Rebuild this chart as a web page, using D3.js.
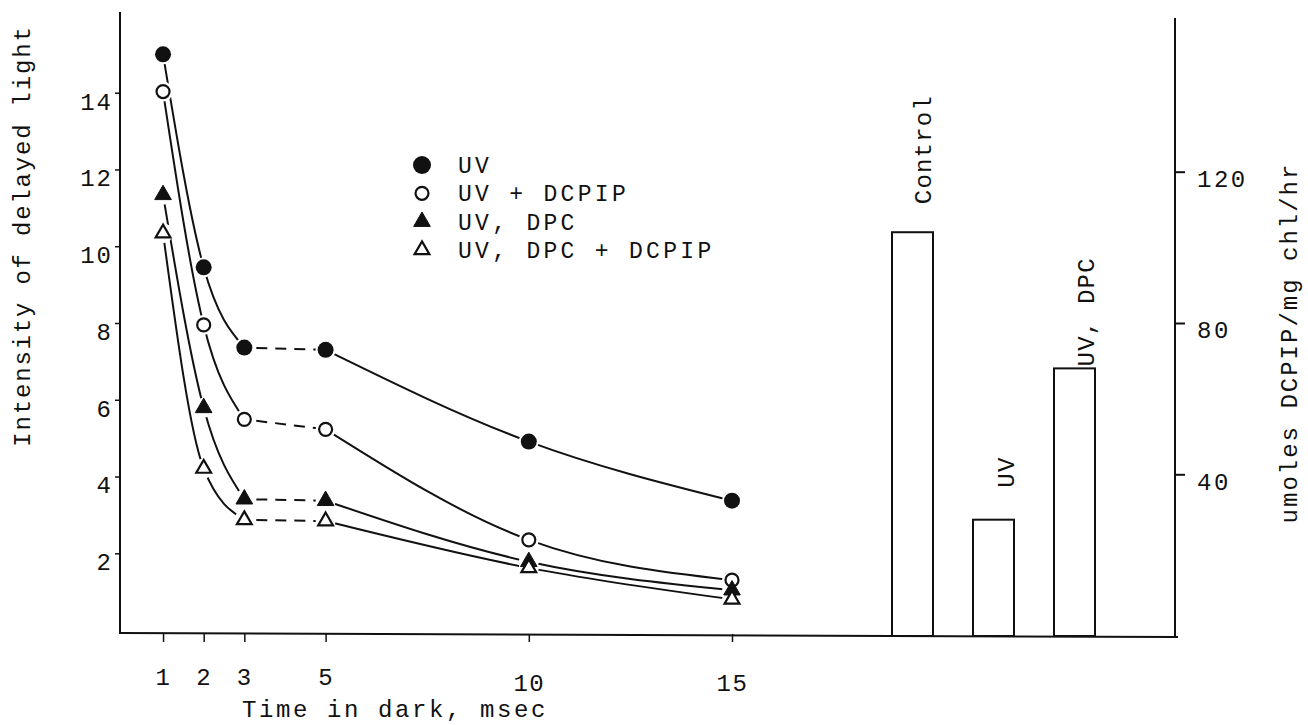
<!DOCTYPE html>
<html>
<head>
<meta charset="utf-8">
<script src="https://cdn.jsdelivr.net/npm/d3@7"></script>
<style>
body { margin: 0; background: #fff; }
svg text { font-family: "Liberation Mono", "DejaVu Sans Mono", monospace; fill: #111; }
</style>
</head>
<body>
<svg width="1308" height="725"></svg>
<script>
// delayed light
var times = [1, 2, 3, 5, 10, 15];
var seriesNames = ["UV", "UV + DCPIP", "UV, DPC", "UV, DPC + DCPIP"];
var uv = [15.0, 9.45, 7.36, 7.30, 4.91, 3.37];
var uvDcpip = [14.03, 7.95, 5.49, 5.23, 2.35, 1.30];
var uvDpc = [11.34, 5.79, 3.41, 3.37, 1.78, 1.04];
var uvDpcDcpip = [10.34, 4.21, 2.87, 2.84, 1.62, 0.80];
var leftTicks = [2, 4, 6, 8, 10, 12, 14];
var xTicks = [1, 2, 3, 5, 10, 15];

// DCPIP reduction bars
var barNames = ["Control", "UV", "UV, DPC"];
var barValues = [104, 28, 68];
var rightTicks = [40, 80, 120];

var svg = d3.select("svg");
var ink = "#111";

var x = d3.scaleLinear().domain([0, 15]).range([122.4, 732]);
var yL = d3.scaleLinear().domain([2, 14]).range([553.3, 92.7]);
var yR = d3.scaleLinear().domain([40, 120]).range([474.3, 171.7]);
var barX = d3.scalePoint().domain(barNames).range([912.5, 1074.5]);
var barW = 41, baseY = 636;

// axis lines (hand drawn frame)
svg.append("line").attr("x1", 120).attr("y1", 12).attr("x2", 120).attr("y2", 634)
  .attr("stroke", ink).attr("stroke-width", 2);
svg.append("line").attr("x1", 119).attr("y1", 633).attr("x2", 1178).attr("y2", 637)
  .attr("stroke", ink).attr("stroke-width", 2);
svg.append("line").attr("x1", 1175).attr("y1", 18).attr("x2", 1175).attr("y2", 637)
  .attr("stroke", ink).attr("stroke-width", 2);

// left axis
var gL = svg.append("g").attr("transform", "translate(120,0)")
  .call(d3.axisLeft(yL).tickValues(leftTicks).tickSize(5).tickPadding(2).tickFormat(d3.format("d")));
gL.select(".domain").remove();
gL.selectAll("line").attr("stroke", ink).attr("stroke-width", 1.5);
gL.selectAll("text").attr("font-size", 24).attr("letter-spacing", 2).attr("dy", "0.68em");

// bottom axis
var gB = svg.append("g").attr("transform", "translate(0,634)")
  .call(d3.axisBottom(x).tickValues(xTicks).tickSize(8).tickPadding(26));
gB.select(".domain").remove();
gB.selectAll("line").attr("stroke", ink).attr("stroke-width", 1.5);
gB.selectAll("text").attr("font-size", 24).attr("letter-spacing", 1.5)
  .attr("dy", function(d) { return d >= 10 ? "0.95em" : "0.71em"; });

// right axis
var gR = svg.append("g").attr("transform", "translate(1175,0)")
  .call(d3.axisRight(yR).tickValues(rightTicks).tickSize(10).tickPadding(12));
gR.select(".domain").remove();
gR.selectAll("line").attr("stroke", ink).attr("stroke-width", 2);
gR.selectAll("text").attr("font-size", 24).attr("letter-spacing", 2.5).attr("dy", "0.62em");

// bars
svg.selectAll("rect.bar").data(barNames).enter().append("rect")
  .attr("class", "bar")
  .attr("x", function(d) { return barX(d) - barW / 2; })
  .attr("y", function(d, i) { return yR(barValues[i]); })
  .attr("width", barW)
  .attr("height", function(d, i) { return baseY - yR(barValues[i]); })
  .attr("fill", "#fff").attr("stroke", ink).attr("stroke-width", 2);

// bar labels, rotated
var labelOff = [[18, 28], [20, 32], [19, 2]];
svg.selectAll("text.blab").data(barNames).enter().append("text")
  .attr("class", "blab")
  .attr("transform", function(d, i) {
    return "translate(" + (barX(d) + labelOff[i][0]) + "," + (yR(barValues[i]) - labelOff[i][1]) + ") rotate(-90)";
  })
  .attr("font-size", 24).attr("letter-spacing", 1.2)
  .text(function(d) { return d; });

// curves
var series = [uv, uvDcpip, uvDpc, uvDpcDcpip];
var kinds = ["dot", "circle", "tri", "opentri"];
var line = d3.line()
  .x(function(d) { return x(d[0]); })
  .y(function(d) { return yL(d[1]); })
  .curve(d3.curveMonotoneX);

series.forEach(function(vals) {
  var pts = times.map(function(t, i) { return [t, vals[i]]; });
  svg.append("path").attr("d", line(pts.slice(0, 3)))
    .attr("fill", "none").attr("stroke", ink).attr("stroke-width", 2);
  svg.append("path").attr("d", line(pts.slice(2, 4)))
    .attr("fill", "none").attr("stroke", ink).attr("stroke-width", 2)
    .attr("stroke-dasharray", "11,8").attr("stroke-dashoffset", -12);
  svg.append("path").attr("d", line(pts.slice(3)))
    .attr("fill", "none").attr("stroke", ink).attr("stroke-width", 2);
});

var triPath = d3.symbol().type(d3.symbolTriangle);

function marker(g, kind, big) {
  if (kind === "dot") {
    g.append("circle").attr("r", big ? 9 : 8).attr("fill", ink);
  } else if (kind === "circle") {
    g.append("circle").attr("r", 6.5).attr("fill", "#fff").attr("stroke", ink).attr("stroke-width", 2.2);
  } else if (kind === "tri") {
    g.append("path").attr("d", triPath.size(120)()).attr("fill", ink)
      .attr("stroke", ink).attr("stroke-width", 1);
  } else {
    g.append("path").attr("d", triPath.size(95)()).attr("fill", "#fff")
      .attr("stroke", ink).attr("stroke-width", 2.2);
  }
}

// white halos so lines stop short of the points
series.forEach(function(vals) {
  svg.selectAll(null).data(times).enter().append("circle")
    .attr("cx", function(d) { return x(d); })
    .attr("cy", function(d, i) { return yL(vals[i]); })
    .attr("r", 10).attr("fill", "#fff");
});

series.forEach(function(vals, s) {
  times.forEach(function(t, i) {
    var g = svg.append("g").attr("transform", "translate(" + x(t) + "," + yL(vals[i]) + ")");
    marker(g, kinds[s]);
  });
});

// legend
var legend = svg.append("g").attr("transform", "translate(422,165)");
seriesNames.forEach(function(name, i) {
  var row = legend.append("g").attr("transform", "translate(0," + (i * 28.3) + ")");
  marker(row, kinds[i], true);
  row.append("text").attr("x", 36).attr("y", 8)
    .attr("font-size", 23).attr("letter-spacing", 3.3)
    .text(name);
});

// axis titles
svg.append("text")
  .attr("transform", "translate(30,236) rotate(-90)")
  .attr("text-anchor", "middle").attr("font-size", 24).attr("letter-spacing", 1.8)
  .text("Intensity of delayed light");
svg.append("text")
  .attr("x", 395).attr("y", 717)
  .attr("text-anchor", "middle").attr("font-size", 24).attr("letter-spacing", 2.6)
  .text("Time in dark, msec");
svg.append("text")
  .attr("transform", "translate(1297,343) rotate(-90)")
  .attr("text-anchor", "middle").attr("font-size", 24).attr("letter-spacing", 2)
  .text("umoles DCPIP/mg chl/hr");
</script>
</body>
</html>
